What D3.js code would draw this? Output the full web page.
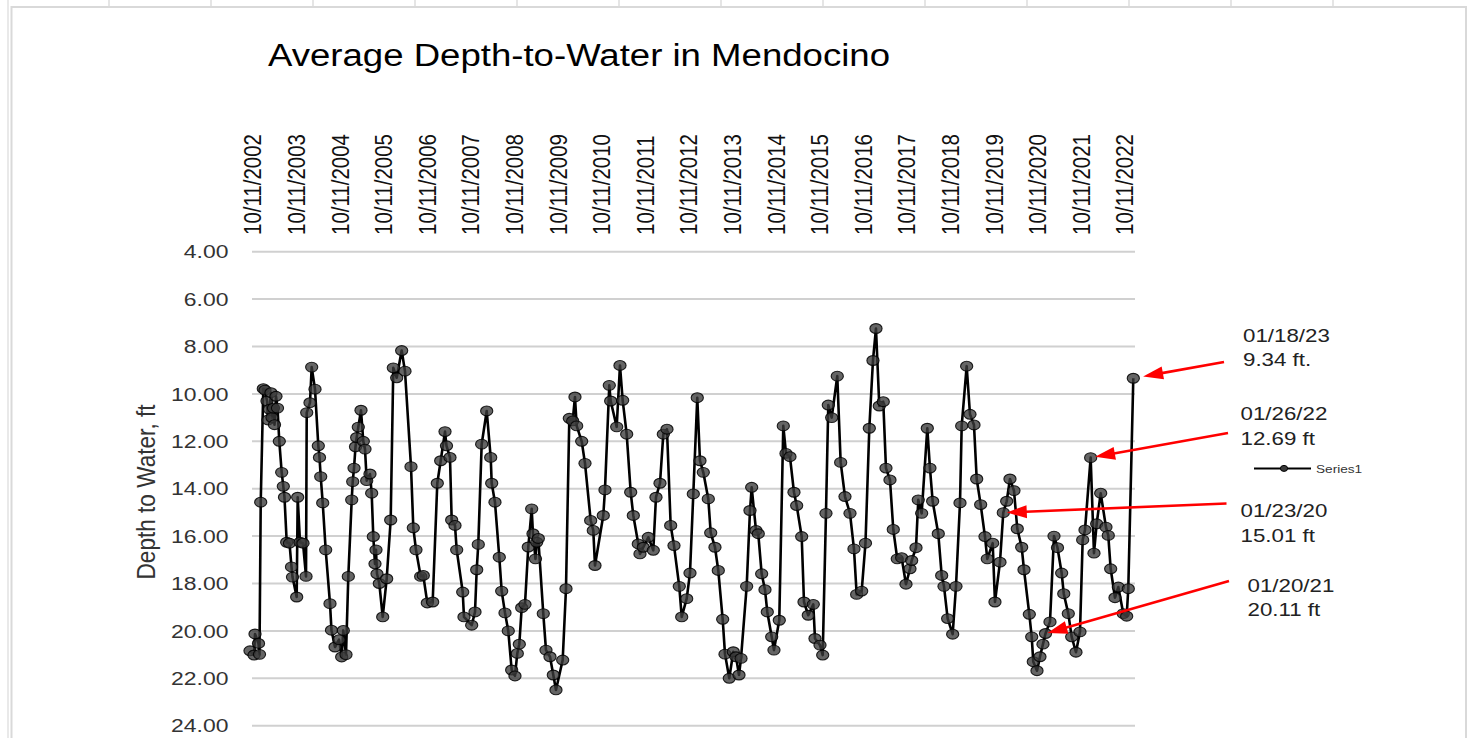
<!DOCTYPE html>
<html><head><meta charset="utf-8">
<script src="https://cdn.jsdelivr.net/npm/d3@7"></script>
<style>body{margin:0;background:#fff;overflow:hidden} svg{display:block}</style>
</head><body>
<svg id="c" width="1473" height="738"></svg>
<script>
// ---------- data ----------
const chartTitle = "Average Depth-to-Water in Mendocino";
const yAxisTitle = "Depth to Water, ft";
const xTickLabels = ["10/11/2002","10/11/2003","10/11/2004","10/11/2005","10/11/2006","10/11/2007","10/11/2008","10/11/2009","10/11/2010","10/11/2011","10/11/2012","10/11/2013","10/11/2014","10/11/2015","10/11/2016","10/11/2017","10/11/2018","10/11/2019","10/11/2020","10/11/2021","10/11/2022"];
const xTickYears = xTickLabels.map((d, i) => 2002.777 + i);
const yTicks = [4, 6, 8, 10, 12, 14, 16, 18, 20, 22, 24];
const seriesName = "Series1";

const years = [2002.731,2002.823,2002.846,2002.926,2002.949,2002.977,2003.036,2003.075,2003.121,2003.144,2003.178,2003.213,2003.236,2003.270,2003.293,2003.327,2003.362,2003.403,2003.458,2003.495,2003.522,2003.573,2003.637,2003.683,2003.706,2003.802,2003.825,2003.878,2003.947,2004.016,2004.032,2004.107,2004.146,2004.222,2004.298,2004.325,2004.353,2004.399,2004.467,2004.566,2004.600,2004.681,2004.773,2004.834,2004.871,2004.933,2004.986,2005.064,2005.087,2005.117,2005.151,2005.178,2005.215,2005.277,2005.330,2005.369,2005.408,2005.483,2005.522,2005.559,2005.598,2005.621,2005.644,2005.697,2005.775,2005.866,2005.958,2006.018,2006.096,2006.210,2006.286,2006.424,2006.477,2006.538,2006.646,2006.706,2006.798,2006.921,2007.027,2007.105,2007.204,2007.238,2007.318,2007.357,2007.433,2007.472,2007.610,2007.639,2007.816,2007.892,2007.931,2007.967,2008.045,2008.160,2008.252,2008.275,2008.350,2008.449,2008.504,2008.580,2008.655,2008.733,2008.809,2008.862,2008.908,2008.963,2009.038,2009.114,2009.192,2009.222,2009.279,2009.307,2009.344,2009.458,2009.520,2009.612,2009.688,2009.749,2009.903,2009.979,2010.055,2010.133,2010.185,2010.224,2010.339,2010.415,2010.545,2010.605,2010.644,2010.834,2010.873,2010.972,2011.004,2011.142,2011.217,2011.279,2011.371,2011.463,2011.523,2011.637,2011.676,2011.752,2011.867,2011.981,2012.043,2012.135,2012.211,2012.295,2012.380,2012.456,2012.577,2012.633,2012.747,2012.823,2012.899,2012.990,2013.052,2013.128,2013.243,2013.298,2013.396,2013.472,2013.573,2013.626,2013.724,2013.816,2013.878,2013.947,2013.993,2014.123,2014.199,2014.238,2014.337,2014.389,2014.467,2014.543,2014.596,2014.697,2014.749,2014.871,2014.963,2015.025,2015.116,2015.208,2015.270,2015.385,2015.438,2015.536,2015.651,2015.690,2015.805,2015.867,2015.942,2015.995,2016.073,2016.201,2016.279,2016.378,2016.493,2016.584,2016.646,2016.761,2016.848,2016.936,2017.020,2017.089,2017.165,2017.256,2017.318,2017.410,2017.486,2017.577,2017.678,2017.777,2017.869,2017.908,2018.007,2018.059,2018.137,2018.266,2018.327,2018.389,2018.518,2018.596,2018.649,2018.733,2018.848,2018.924,2019.016,2019.055,2019.169,2019.245,2019.337,2019.399,2019.490,2019.589,2019.642,2019.766,2019.818,2019.933,2020.009,2020.087,2020.162,2020.254,2020.330,2020.431,2020.484,2020.606,2020.661,2020.697,2020.782,2020.850,2020.919,2020.977,2021.080,2021.172,2021.252,2021.348,2021.396,2021.500,2021.578,2021.676,2021.768,2021.830,2021.883,2022.013,2022.089,2022.151,2022.243,2022.364,2022.417,2022.472,2022.571,2022.647,2022.761,2022.839,2022.876,2022.991];

const depths = [20.84,21.02,20.13,20.53,20.99,14.57,9.78,9.84,10.3,11.1,10.65,9.95,11.0,10.6,11.3,10.1,10.6,12.0,13.31,13.9,14.36,16.26,16.3,17.3,17.73,18.57,14.36,16.26,16.3,17.7,10.79,10.37,8.87,9.8,12.19,12.68,13.49,14.6,16.58,18.85,19.97,20.68,20.37,21.1,19.98,21.0,17.7,14.47,13.7,13.13,12.23,11.84,11.4,10.69,12.0,12.33,13.66,13.38,14.19,16.02,17.17,16.58,17.59,18.0,19.41,17.8,15.32,8.9,9.32,8.17,9.04,13.07,15.65,16.58,17.7,17.66,18.82,18.78,13.77,12.82,11.59,12.19,12.68,15.32,15.55,16.58,18.36,19.41,19.76,19.2,17.42,16.35,12.12,10.72,12.68,13.77,14.57,16.89,18.32,19.24,20.0,21.65,21.9,20.95,20.56,19.02,18.88,16.46,14.85,15.9,16.96,16.26,16.1,19.27,20.81,21.09,21.86,22.49,21.23,18.22,11.03,11.14,10.13,11.35,12.0,12.93,15.34,15.76,17.24,15.13,14.05,9.64,10.3,11.39,8.8,10.27,11.7,14.15,15.13,16.33,16.75,16.47,16.05,16.6,14.36,13.77,11.7,11.49,15.55,16.4,18.12,19.41,18.64,17.56,14.22,10.16,12.82,13.31,14.43,15.86,16.47,17.45,19.51,20.98,22.0,20.88,21.09,21.86,21.16,18.12,14.92,13.94,15.76,15.9,17.59,18.26,19.2,20.25,20.81,19.55,11.35,12.51,12.65,14.15,14.71,16.02,18.78,19.34,18.88,20.32,20.6,21.02,15.04,10.47,11.0,9.25,12.89,14.33,15.04,16.54,18.46,18.32,16.3,11.45,8.59,7.24,10.51,10.33,13.13,13.63,15.72,16.96,16.91,18.03,17.38,17.03,16.49,14.47,15.04,11.45,13.13,14.53,15.9,17.66,18.12,19.48,20.14,18.12,14.6,11.35,8.83,10.86,11.31,13.59,14.67,16.02,16.96,16.3,18.78,17.1,15.01,14.53,13.59,14.08,15.69,16.47,17.42,19.3,20.25,21.3,21.68,21.09,20.56,20.11,19.62,16.0,16.49,17.56,18.43,19.27,20.25,20.9,20.04,16.16,15.74,12.69,16.72,15.48,14.19,15.62,15.97,17.38,18.6,18.15,19.27,19.38,18.22,9.34];

const annDates = ["01/18/23", "01/26/22", "01/23/20", "01/20/21"];
const annValues = [9.34, 12.69, 15.01, 20.11];
const annTexts = ["9.34 ft.", "12.69 ft", "15.01 ft", "20.11 ft"];

// ---------- layout ----------
const SX = 1.24; // horizontal stretch of the source picture
const annTextPos = [[1243, 341.5], [1240.5, 420], [1240.5, 517], [1247.5, 591.5]];
const annArrowStart = [[1224, 362], [1228, 433], [1226.5, 503.5], [1229, 581]];
const annGap = [10, 4.5, 3.5, 2];

const svg = d3.select("#c");
const x = d3.scaleLinear().domain([2002.777, 2023.03]).range([252, 1135]);
const y = d3.scaleLinear().domain([4, 24]).range([251.7, 725.7]);
const FONT = "'Liberation Sans', Arial, sans-serif";

// spreadsheet background lines
const colTicks = d3.range(13).map(i => 109 + i * 102.0);
svg.selectAll(".colTick").data(colTicks).join("line")
  .attr("x1", d => d).attr("x2", d => d).attr("y1", 0).attr("y2", 7)
  .attr("stroke", "#d4d4d4").attr("stroke-width", 1.2);
svg.append("line").attr("x1", 8).attr("x2", 8).attr("y1", 0).attr("y2", 738)
  .attr("stroke", "#e2e2e2").attr("stroke-width", 1.5);
// chart border
svg.append("rect").attr("x", 11.5).attr("y", 7).attr("width", 1454.5).attr("height", 760)
  .attr("fill", "#fff").attr("stroke", "#d9d9d9").attr("stroke-width", 2);

// title
svg.append("text").attr("x", 268).attr("y", 66)
  .attr("font-family", FONT).attr("font-size", 31).attr("fill", "#000")
  .attr("textLength", 622).attr("lengthAdjust", "spacingAndGlyphs")
  .text(chartTitle);

// gridlines
svg.append("g").selectAll("line").data(yTicks).join("line")
  .attr("x1", x.range()[0]).attr("x2", x.range()[1])
  .attr("y1", d => y(d)).attr("y2", d => y(d))
  .attr("stroke", "#d0d0d0").attr("stroke-width", 2);

// y tick labels
const yfs = 18.5;
svg.append("g").selectAll("text").data(yTicks).join("text")
  .attr("transform", d => `translate(228.5,${y(d) + 0.358 * yfs}) scale(${SX},1)`)
  .attr("text-anchor", "end").attr("font-family", FONT).attr("font-size", yfs)
  .attr("fill", "#333").text(d => d3.format(".2f")(d));

// x tick labels (rotated, at top)
const xfs = 20.5, xsx = 1.15;
svg.append("g").selectAll("text").data(xTickYears).join("text")
  .attr("transform", d => `translate(${x(d) + 1 + 0.358 * xfs * xsx},235) scale(${xsx},1) rotate(-90)`)
  .attr("text-anchor", "start").attr("font-family", FONT).attr("font-size", xfs)
  .attr("fill", "#111").text((d, i) => xTickLabels[i]);

// y axis title
svg.append("text")
  .attr("transform", `translate(155,492) scale(${SX},1) rotate(-90)`)
  .attr("text-anchor", "middle").attr("font-family", FONT).attr("font-size", 20.5)
  .attr("fill", "#333").attr("textLength", 175).attr("lengthAdjust", "spacingAndGlyphs")
  .text(yAxisTitle);

// series
const pts = years.map((t, i) => ({t, v: depths[i]}));
svg.append("path").datum(pts)
  .attr("d", d3.line().x(d => x(d.t)).y(d => y(d.v)))
  .attr("fill", "none").attr("stroke", "#000").attr("stroke-width", 2.6)
  .attr("stroke-linejoin", "round");
svg.append("g").selectAll("ellipse").data(pts).join("ellipse")
  .attr("cx", d => x(d.t)).attr("cy", d => y(d.v))
  .attr("rx", 6.1).attr("ry", 4.9)
  .attr("fill", "#3a3a3a").attr("fill-opacity", 0.78)
  .attr("stroke", "#000").attr("stroke-opacity", 0.85).attr("stroke-width", 1.1);

// legend
const lg = svg.append("g");
lg.append("line").attr("x1", 1254).attr("x2", 1311).attr("y1", 468.4).attr("y2", 468.4)
  .attr("stroke", "#000").attr("stroke-width", 2);
lg.append("ellipse").attr("cx", 1284).attr("cy", 468.4).attr("rx", 3.6).attr("ry", 3)
  .attr("fill", "#3a3a3a").attr("stroke", "#000").attr("stroke-width", 1);
lg.append("text").attr("transform", `translate(1316,472.5) scale(${SX},1)`)
  .attr("font-family", FONT).attr("font-size", 11).attr("fill", "#333").text(seriesName);

// annotations
const afs = 18;
annDates.forEach((dt, i) => {
  const idx = depths.lastIndexOf(annValues[i]);
  const px = x(years[idx]), py = y(depths[idx]);
  const [sx0, sy0] = annArrowStart[i];
  const dx = sx0 - px, dy = sy0 - py, L = Math.hypot(dx, dy);
  const ux = dx / L, uy = dy / L;
  const tipX = px + ux * annGap[i], tipY = py + uy * annGap[i];
  const head = 20, hw = 6.5;
  const bx = tipX + ux * head, by = tipY + uy * head;
  svg.append("line").attr("x1", sx0).attr("y1", sy0).attr("x2", bx - ux * 1).attr("y2", by - uy * 1)
    .attr("stroke", "#ff0000").attr("stroke-width", 2.6);
  svg.append("polygon")
    .attr("points", [[tipX, tipY], [bx - uy * hw, by + ux * hw], [bx + uy * hw, by - ux * hw]].map(p => p.join(",")).join(" "))
    .attr("fill", "#ff0000");
  const [tx, ty] = annTextPos[i];
  svg.append("text").attr("transform", `translate(${tx},${ty}) scale(${SX},1)`)
    .attr("font-family", FONT).attr("font-size", afs).attr("fill", "#222").text(dt);
  svg.append("text").attr("transform", `translate(${tx},${ty + 24.5}) scale(${SX},1)`)
    .attr("font-family", FONT).attr("font-size", afs).attr("fill", "#222").text(annTexts[i]);
});
</script>
</body></html>
